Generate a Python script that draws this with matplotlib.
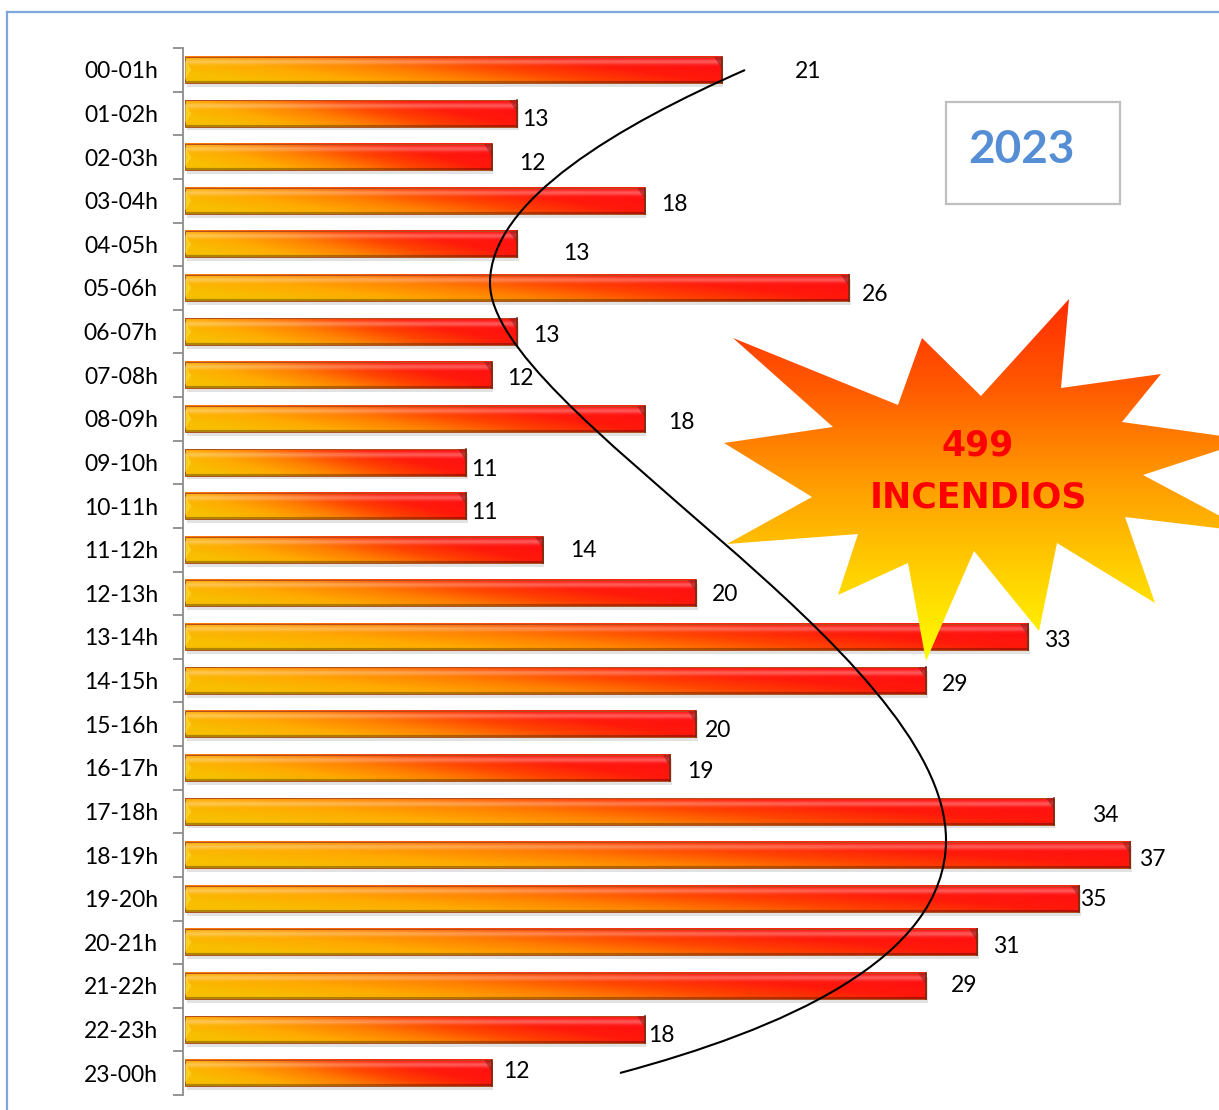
import numpy as np
import matplotlib
matplotlib.use('Agg')
import matplotlib.pyplot as plt
from matplotlib.colors import LinearSegmentedColormap
from matplotlib.patches import Polygon, Rectangle, PathPatch
from matplotlib.path import Path

# datos: incendios por franja horaria (2023)
franjas = ['00-01h', '01-02h', '02-03h', '03-04h', '04-05h', '05-06h', '06-07h', '07-08h',
           '08-09h', '09-10h', '10-11h', '11-12h', '12-13h', '13-14h', '14-15h', '15-16h',
           '16-17h', '17-18h', '18-19h', '19-20h', '20-21h', '21-22h', '22-23h', '23-00h']
incendios = [21, 13, 12, 18, 13, 26, 13, 12, 18, 11, 11, 14,
             20, 33, 29, 20, 19, 34, 37, 35, 31, 29, 18, 12]
anio = '2023'
total_txt = ['499', 'INCENDIOS']

# desplazamiento de las etiquetas (como quedaron colocadas a mano en el original)
lab_dx = [3.39, 0.70, 1.59, 1.15, 2.31, 1.02, 1.13, 1.12, 1.42, 0.71, 0.71, 1.58,
          1.14, 1.14, 1.15, 0.87, 1.16, 2.02, 0.86, 0.55, 1.15, 1.50, 0.64, 0.96]
lab_dy = [0.0, 0.10, 0.09, 0.03, 0.15, 0.11, 0.03, 0.02, 0.03, 0.11, 0.09, -0.04,
          -0.03, 0.03, 0.04, 0.09, 0.03, 0.04, 0.05, -0.03, 0.05, -0.06, 0.09, -0.09]

W, H = 1219, 1110
fig = plt.figure(figsize=(W / 100, H / 100), dpi=100)
fig.patch.set_facecolor('white')

# ejes principales
ax = fig.add_axes([183 / W, 1 - 1095 / H, (1205 - 183) / W, (1095 - 48) / H])
ax.set_facecolor('none')

cmap_bar = LinearSegmentedColormap.from_list(
    'barra', ['#F8BE00', '#FFAA00', '#FF8000', '#FF4400', '#FF1A0A', '#FF1010'])


def bar_image(n=160, m=26):
    u = np.linspace(0, 1, n)[None, :]
    v = np.linspace(0, 1, m)[:, None]
    t = np.clip(0.92 * u + 0.32 * (0.5 - v) + 0.04, 0, 1)
    img = cmap_bar(t)[..., :3].copy()
    hl = 0.3 * np.exp(-((v - 0.2) / 0.1) ** 2)
    img = img + (1 - img) * hl[..., None]
    img[0] = img[0] * 0.6 + np.array([1.0, 0.2, 0.05]) * 0.4
    img[-2:] = img[-2:] * 0.7
    return np.clip(img, 0, 1)


img = bar_image()
h = 0.6
bw = 0.31
x0 = 0.08
for i, val in enumerate(incendios):
    top, bot = i - h / 2, i + h / 2
    ax.add_patch(Rectangle((x0 + 0.06, top + 0.09), val, h, facecolor='#7F7F7F',
                           alpha=0.22, edgecolor='none', zorder=1))
    ax.imshow(img, extent=(x0, x0 + val, bot, top), aspect='auto',
              interpolation='bilinear', zorder=2)
    ax.add_patch(Rectangle((x0, top), val, h, facecolor='none',
                           edgecolor='#B0501E', lw=0.7, zorder=3))
    ax.add_patch(Polygon([(x0 + val - bw, top), (x0 + val, top), (x0 + val, top + 0.45 * h)],
                         closed=True, facecolor='#8E1A1A', alpha=0.55,
                         edgecolor='none', zorder=3))
    ax.add_patch(Polygon([(x0, top + 0.12 * h), (x0 + bw * 0.8, i), (x0, bot - 0.12 * h)],
                         closed=True, facecolor='#FFE040', alpha=0.55,
                         edgecolor='none', zorder=3))
    ax.plot([x0 + val, x0 + val], [top, bot], color='#7A2A10', lw=1.2, zorder=3)
    ax.text(x0 + val + lab_dx[i], i + lab_dy[i] + 0.05, str(val), ha='center', va='center',
            fontsize=16.5, family='Lato', color='black', zorder=4)

for s in ['top', 'right', 'bottom']:
    ax.spines[s].set_visible(False)
ax.spines['left'].set_color('#8C8C8C')
ax.spines['left'].set_linewidth(1.3)

ax.set_xlim(0, 40)
ax.set_ylim(23.5, -0.5)
ax.set_xticks([])
ax.set_yticks(range(len(franjas)))
ax.set_yticklabels(franjas, family='Lato', fontsize=16.5)
ax.set_yticks(np.arange(-0.5, len(franjas), 1), minor=True)
ax.tick_params(axis='y', which='major', length=0, pad=18)
ax.tick_params(axis='y', which='minor', length=7, width=1.3, color='#8C8C8C')

# capa de adornos en pixeles
ov = fig.add_axes([0, 0, 1, 1], zorder=5)
ov.set_xlim(0, W)
ov.set_ylim(H, 0)
ov.axis('off')
ov.patch.set_visible(False)

# marco azul
ov.plot([7, W], [12, 12], color='#7FA7DD', lw=1.6)
ov.plot([7, 7], [12, H], color='#7FA7DD', lw=1.6)

# curva
verts = [(745, 70), (620, 125), (490, 200), (490, 283),
         (490, 410), (946, 650), (946, 840),
         (946, 960), (780, 1030), (620, 1073)]
codes = [Path.MOVETO] + [Path.CURVE4] * 9
ov.add_patch(PathPatch(Path(verts, codes), facecolor='none', edgecolor='black', lw=1.5))

# estrella
star = [(733, 338), (898, 405), (922, 338), (981, 396), (1069, 299), (1061, 388),
        (1161, 374), (1122, 422), (1250, 440), (1143, 475), (1250, 532), (1125, 517),
        (1155, 603), (1057, 543), (1039, 631), (974, 551), (926, 661), (908, 563),
        (838, 595), (858, 534), (727, 544), (812, 497), (724, 443), (833, 427)]
star_patch = Polygon(star, closed=True, facecolor='none', edgecolor='none')
ov.add_patch(star_patch)
cmap_star = LinearSegmentedColormap.from_list(
    'estrella', ['#FF2A00', '#FF5A00', '#FF9A00', '#FFD000', '#FFFF00'])
grad = cmap_star(np.linspace(0, 1, 256))[:, None, :3]
im = ov.imshow(grad, extent=(720, 1260, 665, 295), aspect='auto', interpolation='bilinear')
im.set_clip_path(star_patch)
ov.text(978, 446, total_txt[0], ha='center', va='center', fontsize=25, fontweight='bold',
        color='#FF0000', family='DejaVu Sans')
ov.text(978, 498, total_txt[1], ha='center', va='center', fontsize=25, fontweight='bold',
        color='#FF0000', family='DejaVu Sans')

# recuadro del anio
ov.add_patch(Rectangle((946, 102), 174, 102, facecolor='white', edgecolor='#BFBFBF', lw=1.6))
ov.text(1021, 150, anio, ha='center', va='center', fontsize=33, fontweight='bold',
        color='#558ED5', family='Lato')

ov.set_xlim(0, W)
ov.set_ylim(H, 0)

fig.savefig('out.png', dpi=100)
